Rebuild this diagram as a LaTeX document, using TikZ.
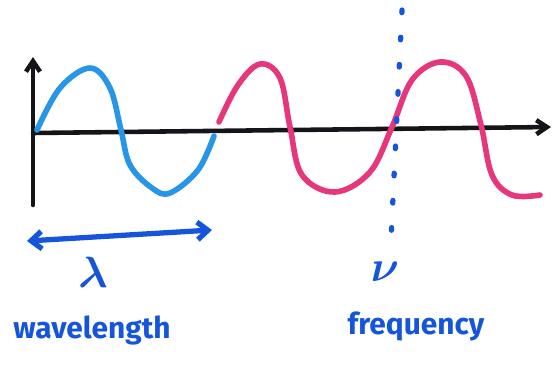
\documentclass[tikz,border=0pt]{standalone}
\usepackage{fontspec}
\setsansfont{Fira Sans}
\usetikzlibrary{arrows.meta, positioning}
\definecolor{ink}{RGB}{20, 20, 25}
\definecolor{penblue}{RGB}{20, 85, 220}
\definecolor{skyblue}{RGB}{40, 150, 230}
\definecolor{pink}{RGB}{230, 55, 125}

\begin{document}
\begin{tikzpicture}[x=0.02cm, y=-0.02cm,
      ax/.style={-{Straight Barb[length=6pt, width=8pt]}, line width=2.6pt, color=ink, line cap=round},
      wv/.style={line width=3.2pt, line cap=round, line join=round},
      lbl/.style={font=\sffamily\bfseries\fontsize{17}{20}\selectfont, text=penblue, inner sep=0pt},
      sym/.style={font=\fontsize{26}{28}\selectfont\boldmath, text=penblue, inner sep=0pt}]
      \useasboundingbox (0,0) rectangle (552,369);
      % axes
      \coordinate (o) at (33,133);
      \coordinate (ybot) at (33,205);
      \coordinate (ytop) at (33,57);
      \coordinate (xend) at (551,127);
      \draw[ax] (ybot) -- (ytop);
      \draw[ax] (o) -- (xend);
      % one wavelength
      \draw[wv, skyblue] plot[smooth, tension=0.6] coordinates {(37,130) (60,88) (90,68) (110,88) (121,130)
        (130,165) (152,188) (170,193) (198,170) (214,136)};
      % the rest of the wave
      \draw[wv, pink] plot[smooth, tension=0.6] coordinates {(219,122) (238,85) (260,64) (280,78) (290,127)
        (302,175) (335,192) (370,172) (392,127) (412,80) (440,62) (466,76) (481,125) (492,175)
        (512,195) (540,195)};
      % frequency marker
      \coordinate (ftop) at (402,10);
      \coordinate (fbot) at (391,240);
      \draw[penblue, line width=3pt, line cap=round, dash pattern=on 1.5pt off 14pt] (ftop) -- (fbot);
      % wavelength span
      \coordinate (wlL) at (27,241);
      \coordinate (wlR) at (212,230);
      \draw[{Straight Barb[length=6pt, width=10pt]}-{Straight Barb[length=6pt, width=10pt]}, line width=3pt, penblue] (wlL) -- (wlR);
      \node[sym] (lam) at (93,272) {$\lambda$};
      \node[lbl] (wl) at (92,330) {wavelength};
      \node[sym] (nu) at (385,272) {$\nu$};
      \node[lbl] (freq) at (416,326) {frequency};
    \end{tikzpicture}
\end{document}
